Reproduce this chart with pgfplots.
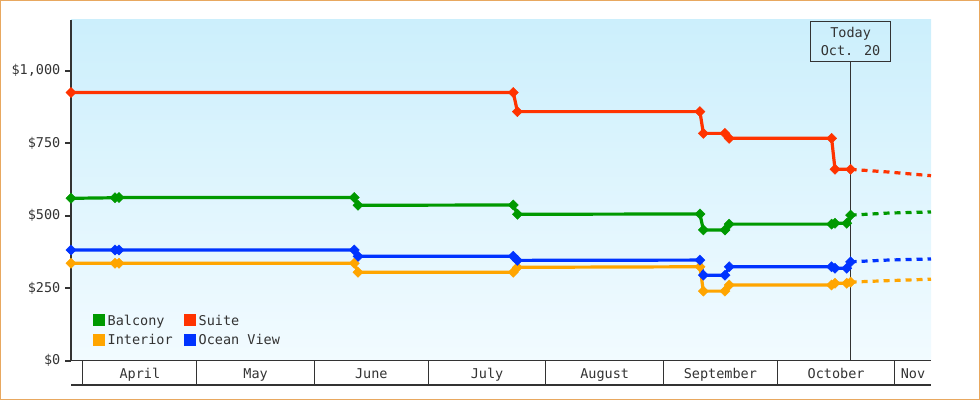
\documentclass[border=0pt]{standalone}
\usepackage{pgfplots}
\pgfplotsset{compat=1.18}
\usepackage{fontspec}
\setmainfont{DejaVu Sans Mono}
\definecolor{cgreen}{HTML}{009900}
\definecolor{cred}{HTML}{FF3300}
\definecolor{corange}{HTML}{FFA500}
\definecolor{cblue}{HTML}{0033FF}
\definecolor{cdark}{HTML}{333333}
\definecolor{cframe}{HTML}{E8A860}
\definecolor{bgtop}{RGB}{204,239,252}
\definecolor{bgbot}{RGB}{242,251,255}
\begin{document}
\fontsize{13.5bp}{16bp}\selectfont
\begin{tikzpicture}
\useasboundingbox (0,0) rectangle (980bp,400bp);
\draw[cframe, line width=1bp] (0.5bp,0.5bp) rectangle (979.5bp,399.5bp);
\begin{axis}[
  at={(71bp,39.3bp)}, anchor=south west,
  scale only axis, width=860bp, height=340.7bp,
  xmin=-3.16, xmax=223.5, ymin=0, ymax=1175,
  clip=false,
  axis x line*=bottom, axis y line*=left,
  x axis line style={cdark, line width=1.3bp, -},
  y axis line style={cdark, line width=2.5bp, -},
  axis background/.style={top color=bgtop, bottom color=bgbot},
  xtick={15,45.5,76,106.5,137.5,168,198.5,218.75},
  xticklabels={April,May,June,July,August,September,October,Nov},
  major x tick style={draw=none},
  minor xtick={0,30,61,91,122,153,183,214},
  minor tick length=24.3bp,
  minor tick style={cdark, line width=1bp},
  xtick align=outside, ytick align=outside,
  major tick length=6bp,
  major y tick style={cdark, line width=2bp},
  ytick={0,250,500,750,1000},
  yticklabels={\$0,\$250,\$500,\$750,{\$1,000}},
  ticklabel style={text=cdark, font=\fontsize{13.5bp}{16bp}\selectfont},
  xticklabel style={anchor=center, text height=10bp, text depth=3bp, yshift=-8bp},
  /pgf/number format/assume math mode=true,
  legend columns=2,
  legend cell align=left,
  legend style={at={(0.0259,0.1357)}, anchor=north west, draw=none, fill=none,
    inner sep=0pt, outer sep=0pt, row sep=5.5bp,
    nodes={inner sep=0pt, text height=10bp, text depth=3bp, text=cdark},
    font=\fontsize{13.5bp}{16bp}\selectfont,
    /tikz/every even column/.append style={column sep=11.6bp},
    /tikz/every odd column/.append style={column sep=3bp}},
  sline/.style={line width=3.2bp, mark=square*, mark size=3.6bp,
    mark options={solid, rotate=45, line width=0.4bp}},
  dline/.style={line width=3.2bp, dash pattern=on 6bp off 5bp},
]
% legend
\addlegendimage{legend image code/.code={\fill[cgreen] (0bp,-4bp) rectangle (11bp,7bp);}}
\addlegendentry{Balcony}
\addlegendimage{legend image code/.code={\fill[cred] (0bp,-4bp) rectangle (11bp,7bp);}}
\addlegendentry{Suite}
\addlegendimage{legend image code/.code={\fill[corange] (0bp,-4bp) rectangle (11bp,7bp);}}
\addlegendentry{Interior}
\addlegendimage{legend image code/.code={\fill[cblue] (0bp,-4bp) rectangle (11bp,7bp);}}
\addlegendentry{Ocean View}
% Interior
\addplot[corange, sline, forget plot] coordinates {
 (-3.16,336) (8.43,336) (9.49,336) (71.5,336) (72.5,305) (113.4,305) (114.5,322)
 (162.6,324) (163.5,240) (169.2,240) (170.3,261) (197.3,261) (198.2,267)
 (201.3,267) (202.3,271)};
\addplot[corange, dline, forget plot] coordinates {(202.3,271) (212,276) (223.5,281)};
% Ocean View
\addplot[cblue, sline, forget plot] coordinates {
 (-3.16,382) (8.43,382) (9.49,382) (71.5,382) (72.5,360) (113.4,360) (114.5,346)
 (162.6,347) (163.5,295) (169.2,295) (170.3,324) (197.3,324) (198.2,319)
 (201.3,319) (202.3,341)};
\addplot[cblue, dline, forget plot] coordinates {(202.3,341) (212,347) (223.5,351)};
% Balcony
\addplot[cgreen, sline, forget plot] coordinates {
 (-3.16,560) (8.43,562) (9.49,563) (71.5,563) (72.5,536) (113.4,537) (114.5,505)
 (162.6,506) (163.5,451) (169.2,451) (170.3,471) (197.3,471) (198.2,474)
 (201.3,474) (202.3,502)};
\addplot[cgreen, dline, forget plot] coordinates {(202.3,502) (212,509) (223.5,513)};
% Suite
\addplot[cred, sline, forget plot] coordinates {
 (-3.16,925) (113.4,925) (114.5,859) (162.6,859) (163.5,784) (169.2,784)
 (170.3,767) (197.3,767) (198.2,660) (202.3,660)};
\addplot[cred, dline, forget plot] coordinates {(202.3,660) (212,651) (223.5,638)};
% today marker
\node[draw=cdark, line width=1bp, anchor=north, minimum width=80bp, minimum height=40bp,
  align=center, inner sep=2bp, text=cdark, font=\fontsize{13.5bp}{18bp}\selectfont]
  (today) at (axis cs:202.3,1172) {Today\\Oct. 20};
\draw[cdark, line width=1bp] (axis cs:202.3,0) -- (today.south);
\draw[cdark, line width=1.3bp] ([yshift=-24.3bp]rel axis cs:0,0) -- ([yshift=-24.3bp]rel axis cs:1,0);
\end{axis}
\end{tikzpicture}
\end{document}
